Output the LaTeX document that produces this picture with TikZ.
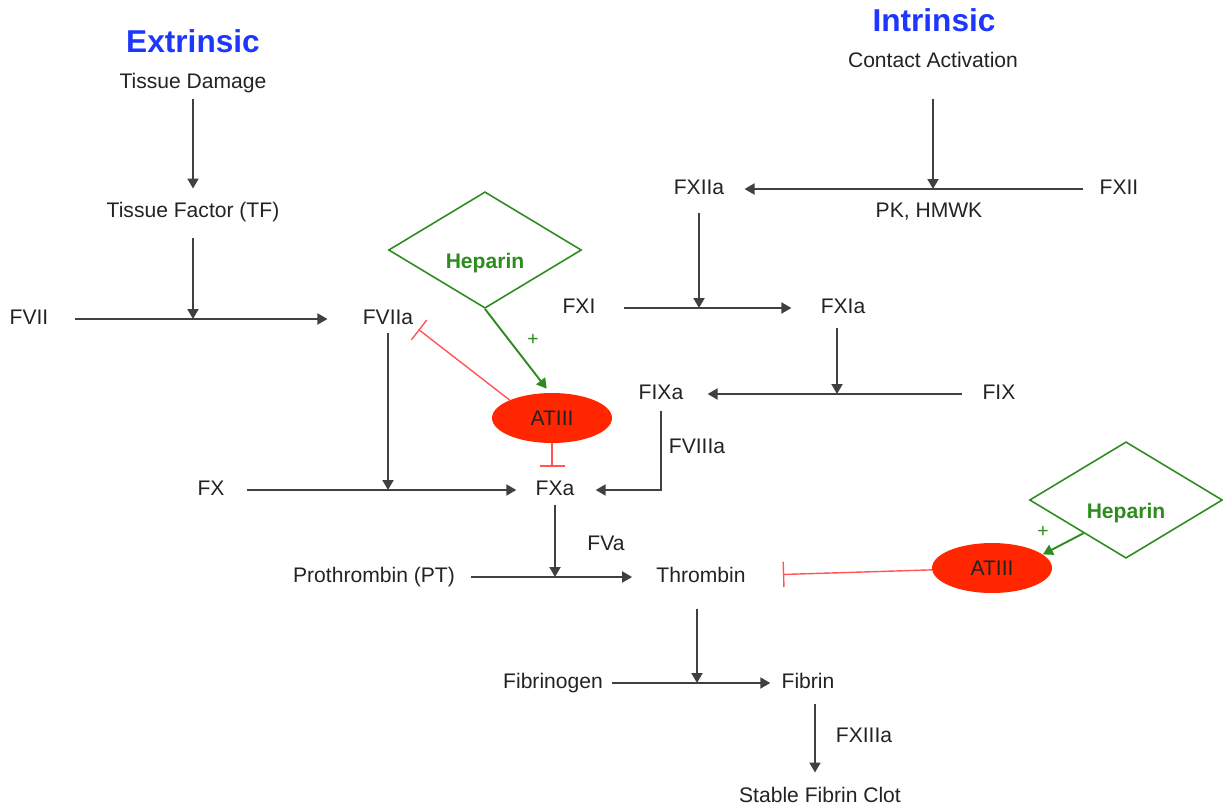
\documentclass[tikz,border=0pt]{standalone}
\usepackage{fontspec}
\setmainfont{Liberation Sans}
\usetikzlibrary{arrows.meta,shapes.geometric}

\definecolor{pathblue}{RGB}{30,55,255}
\definecolor{hepgreen}{RGB}{45,140,30}
\definecolor{atred}{RGB}{255,38,0}
\definecolor{inhred}{RGB}{255,85,85}
\definecolor{txtgray}{RGB}{35,35,35}

\tikzset{
  fac/.style={inner sep=0pt,text height=9pt,text depth=2.5pt,text=txtgray,font=\fontsize{12}{14}\selectfont},
  title/.style={inner sep=0pt,text=pathblue,font=\fontsize{18}{22}\selectfont\bfseries},
  hep/.style={diamond,draw=hepgreen,line width=0.9pt,minimum width=3.86cm,minimum height=2.12cm,inner sep=0pt,text height=21.6pt,text depth=0pt,text=hepgreen,font=\fontsize{12}{14}\selectfont\bfseries},
  atbox/.style={ellipse,fill=atred,minimum width=2.4cm,minimum height=1cm,inner sep=0pt,text=txtgray,font=\fontsize{12}{14}\selectfont},
  plussign/.style={inner sep=0pt,text=hepgreen,font=\fontsize{11}{12}\selectfont},
  flow/.style={draw=black!75,line width=1.1pt,-{Triangle[length=2mm,width=2.2mm]}},
  act/.style={draw=hepgreen,line width=1.1pt,-{Triangle[length=2mm,width=2.2mm]}},
  inh/.style={draw=inhred,line width=0.8pt,-{Bar[width=5mm]}},
}

\begin{document}
\begin{tikzpicture}[x=0.02cm,y=-0.02cm]
\useasboundingbox (0,0) rectangle (1223,809);

%extrinsic
\node[title] (ext) at (193,41) {Extrinsic};
\node[fac] (td) at (193,83) {Tissue Damage};
\node[fac] (tf) at (193,212) {Tissue Factor (TF)};
\node[fac] (f7) at (29,319) {FVII};
\node[fac] (f7a) at (388,319) {FVIIa};
\coordinate (j7) at (tf |- f7);
\draw[flow,shorten <=0.12cm,shorten >=0.26cm] (td) -- (tf);
\draw[flow,shorten <=0.32cm] (tf) -- (j7);
\draw[flow,shorten <=0.52cm,shorten >=0.7cm] (f7) -- (f7a);

%intrinsic
\node[title] (int) at (934,20) {Intrinsic};
\node[fac] (ca) at (933,62) {Contact Activation};
\node[fac] (f12) at (1119,189) {FXII};
\node[fac] (f12a) at (699,189) {FXIIa};
\node[fac] (pk) at (929,212) {PK, HMWK};
\coordinate (j12) at (ca |- f12);
\draw[flow,shorten <=0.54cm] (ca) -- (j12);
\draw[flow,shorten <=0.32cm,shorten >=0.4cm] (f12) -- (f12a);

\node[fac] (f11) at (579,308) {FXI};
\node[fac] (f11a) at (843,308) {FXIa};
\coordinate (j11) at (f12a |- f11);
\draw[flow,shorten <=0.28cm] (f12a) -- (j11);
\draw[flow,shorten <=0.56cm,shorten >=0.58cm] (f11) -- (f11a);

\node[fac] (f9) at (999,394) {FIX};
\node[fac] (f9a) at (661,394) {FIXa};
\coordinate (j9) at ([xshift=-0.12cm]f11a |- f9);
\draw[flow,shorten <=0.2cm] ([xshift=-0.12cm]f11a.south) -- (j9);
\draw[flow,shorten <=0.4cm,shorten >=0.48cm] (f9) -- (f9a);

%common
\node[fac] (f10) at (211,490) {FX};
\node[fac] (f10a) at (555,490) {FXa};
\coordinate (j10) at (f7a |- f10);
\draw[flow,shorten <=0.08cm] (f7a) -- (j10);
\draw[flow,shorten <=0.44cm,shorten >=0.38cm] (f10) -- (f10a);
\node[fac] (f8a) at (697,448) {FVIIIa};
\draw[flow,shorten <=0.14cm,shorten >=0.42cm] (f9a) |- (f10a);

\node[fac] (pt) at (374,577) {Prothrombin (PT)};
\node[fac] (thr) at (701,577) {Thrombin};
\node[fac] (f5a) at (606,545) {FVa};
\coordinate (j5) at (f10a |- pt);
\draw[flow,shorten <=0.1cm] (f10a) -- (j5);
\draw[flow,shorten <=0.32cm,shorten >=0.48cm] (pt) -- (thr);

\node[fac] (fbg) at (553,683) {Fibrinogen};
\node[fac] (fib) at (808,683) {Fibrin};
\node[fac] (f13a) at (864,737) {FXIIIa};
\node[fac] (clot) at (820,797) {Stable Fibrin Clot};
\coordinate (jf) at ([xshift=-0.08cm]thr |- fbg);
\draw[flow,shorten <=0.44cm] ([xshift=-0.08cm]thr.south) -- (jf);
\draw[flow,shorten <=0.18cm,shorten >=0.22cm] (fbg) -- (fib);
\draw[flow,shorten <=0.22cm,shorten >=0.28cm] ([xshift=0.14cm]fib.south) -- ([xshift=0.14cm]fib.south |- clot.north);

%heparin 1
\node[hep] (hep1) at (485,250) {Heparin};
\node[atbox] (at1) at (552,418) {ATIII};
\node[plussign] (p1) at (533,340) {+};
\draw[act,shorten >=0.1cm] (hep1.south) -- (at1.95);
\draw[inh] (at1.157) -- ([xshift=0.1cm]f7a.south east);
\draw[inh,shorten >=0.26cm] (at1) -- (at1 |- f10a.north);

%heparin 2
\node[hep] (hep2) at (1126,500) {Heparin};
\node[atbox] (at2) at (992,568) {ATIII};
\node[plussign] (p2) at (1043,532) {+};
\draw[act] (hep2.218) -- (at2.15);
\draw[inh,shorten >=0.74cm] (at2) -- (thr);

\end{tikzpicture}
\end{document}
